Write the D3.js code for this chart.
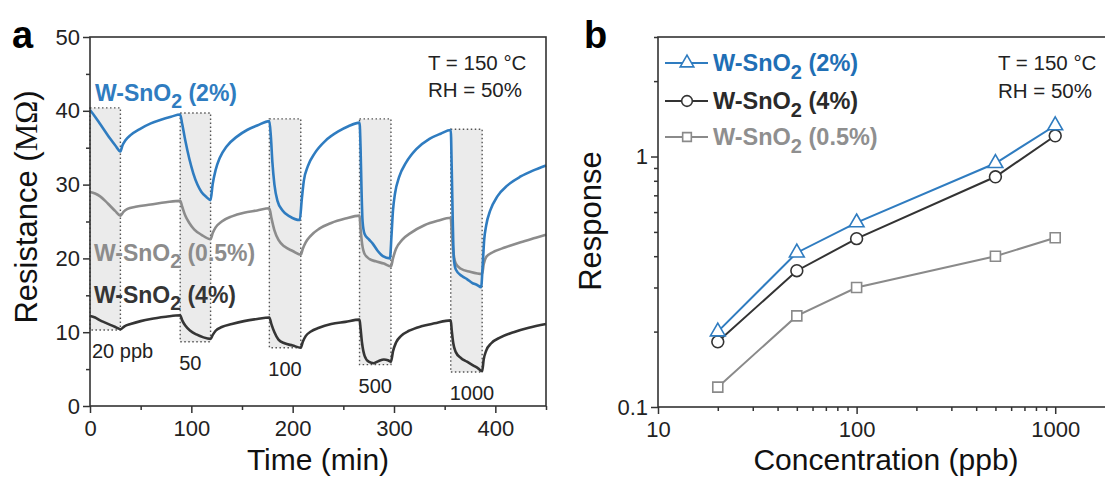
<!DOCTYPE html>
<html>
<head>
<meta charset="utf-8">
<script src="https://cdn.jsdelivr.net/npm/d3@7"></script>
<style>
  body { margin: 0; background: #fff; }
  svg text { font-family: "Liberation Sans", Arial, sans-serif; }
</style>
</head>
<body>
<div id="chart"></div>
<script>
// ---- data panel a: resistance vs time, [min, MOhm] ----
var blueSeries = [
  [0,40.1],[5,39.2],[10,38.2],[15,37.2],[20,36.2],[25,35.3],[30,34.5],
  [32,35.3],[35,36.0],[40,36.7],[50,37.6],[60,38.3],[70,38.8],[80,39.2],[89,39.5],
  [91,38.2],[94,36],[98,33.5],[102,31.5],[106,30.0],[110,29.0],[115,28.3],[119,27.9],
  [121,30],[124,32],[128,33.6],[135,35.2],[145,36.5],[155,37.4],[165,38.0],[177,38.6],
  [178.5,36.5],[180,33],[182,30],[185,27.8],[190,26.5],[197,25.7],[207,25.2],
  [209,28],[211,30.5],[215,32.5],[222,34.3],[232,35.9],[245,37.2],[255,37.9],[266,38.4],
  [267,35],[268,29],[269,25],[271,23.3],[275,22.6],[279,22.0],[284,21.0],[289,20.3],[296,20.0],
  [297.5,23],[299,26.5],[301,28.8],[305,31],[312,33],[322,34.8],[335,36.2],[346,36.9],[356,37.4],
  [357,32],[358,25],[359,20],[361,18.5],[367,17.6],[372,17.2],[377,16.7],[382,16.4],[386,16.1],
  [387.5,19],[389,22.5],[391,24.5],[395,26.5],[402,28.4],[412,29.9],[425,31.1],[437,31.9],[450,32.6]
];
var graySeries = [
  [0,29.0],[5,28.8],[10,28.4],[15,27.8],[20,27.1],[25,26.4],[30,25.8],
  [33,26.3],[37,26.7],[45,27.0],[60,27.3],[75,27.6],[89,27.8],
  [91,27],[94,25.8],[98,24.8],[103,23.9],[110,23.2],[119,22.6],
  [121,23.4],[124,24.2],[130,25.0],[140,25.7],[152,26.2],[165,26.5],[177,26.8],
  [179,25.5],[182,23.8],[186,22.5],[192,21.6],[200,21.0],[208,20.5],
  [210,21.3],[213,22.2],[218,23.1],[226,24.0],[238,24.8],[252,25.4],[266,25.8],
  [267,24],[268.5,22],[271,20.6],[276,19.9],[282,19.6],[290,19.3],[297,18.9],
  [299,20],[302,21.3],[308,22.5],[317,23.5],[330,24.5],[343,25.1],[356,25.5],
  [357,23.5],[358.5,21],[361,19.3],[366,18.6],[375,18.2],[387,17.9],
  [388.5,19.2],[391,20.2],[397,20.8],[410,21.5],[425,22.2],[440,22.8],[450,23.2]
];
var blackSeries = [
  [0,12.2],[5,12.0],[10,11.6],[15,11.3],[20,11.0],[25,10.7],[30,10.4],
  [34,10.8],[40,11.1],[50,11.5],[60,11.8],[75,12.1],[89,12.3],
  [91,11.6],[94,10.9],[99,10.2],[105,9.7],[112,9.3],[119,9.1],
  [121,9.6],[124,10.2],[130,10.7],[140,11.1],[152,11.5],[165,11.8],[177,12.0],
  [179,11.1],[182,10.0],[186,9.0],[192,8.5],[200,8.2],[208,7.9],
  [210,8.7],[213,9.5],[218,10.1],[226,10.6],[238,11.1],[252,11.4],[266,11.7],
  [267,10.5],[268.5,8.5],[271,6.8],[275,6.0],[280,5.8],[285,6.1],[290,6.3],[294,6.2],[297,6.0],
  [299,7.4],[302,8.6],[307,9.5],[315,10.2],[327,10.8],[340,11.2],[356,11.6],
  [357,10.2],[358.5,8.5],[361,7.3],[366,6.5],[372,6.0],[378,5.5],[383,5.1],[387,4.7],
  [388.5,6.3],[391,7.5],[396,8.5],[405,9.3],[418,10.0],[433,10.6],[450,11.1]
];

// gas exposure windows
var pulseStart = [0, 89, 177, 266, 356];
var pulseEnd = [30, 119, 208, 297, 387];
var pulseTop = [40.4, 39.7, 38.9, 38.9, 37.5];
var pulseBottom = [10.3, 8.7, 7.9, 5.6, 4.6];
var pulseLabels = ["20 ppb", "50", "100", "500", "1000"];

var timeTicks = [0, 100, 200, 300, 400];
var resTicks = [0, 10, 20, 30, 40, 50];

// ---- data panel b: response vs concentration ----
var concentrations = [20, 50, 100, 500, 1000];
var resp2 = [0.2, 0.413, 0.545, 0.94, 1.33];
var resp4 = [0.182, 0.35, 0.47, 0.83, 1.21];
var resp05 = [0.12, 0.231, 0.30, 0.40, 0.474];
var concTicks = [10, 100, 1000];
var respTicks = [0.1, 1];

var colBlue = "#2f7cc0",
  colGray = "#8c8c8c",
  colBlack = "#353535";

var svg = d3
  .select("#chart")
  .append("svg")
  .attr("width", 1105)
  .attr("height", 478);

// helper: text with subscript "W-SnO2 (x%)"
function subLabel(g, x, y, post, color, size) {
  var t = g
    .append("text")
    .attr("x", x)
    .attr("y", y)
    .attr("fill", color)
    .attr("font-size", size)
    .attr("font-weight", "bold");
  t.append("tspan").text("W-SnO");
  t.append("tspan").text("2").attr("font-size", size * 0.85).attr("dy", size * 0.32);
  t.append("tspan").text(" " + post).attr("dy", -size * 0.32);
  return t;
}

// helper: axes with labelled majors and small minors
function drawAxis(g, axisFn, scale, major, minor, fmt, transform) {
  g.append("g")
    .attr("transform", transform)
    .call(axisFn(scale).tickValues(minor).tickSize(4).tickSizeOuter(0).tickFormat(""))
    .call(function (s) { s.select(".domain").remove(); });
  var a = g
    .append("g")
    .attr("transform", transform)
    .call(axisFn(scale).tickValues(major).tickSize(7).tickSizeOuter(0).tickPadding(axisFn == d3.axisBottom ? 7 : 3).tickFormat(fmt));
  a.select(".domain").remove();
  a.selectAll("text")
    .attr("font-size", 22)
    .attr("fill", "#222")
    .style("font-family", '"Liberation Sans", Arial, sans-serif');
  g.selectAll(".tick line").attr("stroke", "#333").attr("stroke-width", 1.5);
}

// ================= PANEL A =================
var ga = svg.append("g");
var xA = d3.scaleLinear().domain([0, 450]).range([90, 546]);
var yA = d3.scaleLinear().domain([0, 50]).range([406, 37]);

// shaded exposure boxes
pulseStart.forEach(function (s, i) {
  ga.append("rect")
    .attr("x", xA(s))
    .attr("y", yA(pulseTop[i]))
    .attr("width", xA(pulseEnd[i]) - xA(s))
    .attr("height", yA(pulseBottom[i]) - yA(pulseTop[i]))
    .attr("fill", "#ebebeb")
    .attr("stroke", "#555")
    .attr("stroke-width", 1.4)
    .attr("stroke-dasharray", "1.5,2.5");
});

var lineA = d3
  .line()
  .x(function (d) { return xA(d[0]); })
  .y(function (d) { return yA(d[1]); })
  .curve(d3.curveMonotoneX);

[[graySeries, colGray], [blackSeries, colBlack], [blueSeries, colBlue]].forEach(function (s) {
  ga.append("path")
    .datum(s[0])
    .attr("fill", "none")
    .attr("stroke", s[1])
    .attr("stroke-width", 2.6)
    .attr("stroke-linejoin", "round")
    .attr("d", lineA);
});

// concentration labels under boxes
pulseLabels.forEach(function (l, i) {
  ga.append("text")
    .attr("x", xA(pulseStart[i]) + (i == 0 ? 2 : -1))
    .attr("y", yA(pulseBottom[i]) + 28)
    .attr("font-size", 20)
    .attr("fill", "#222")
    .text(l);
});

drawAxis(ga, d3.axisBottom, xA, timeTicks, [50, 150, 250, 350, 450], d3.format("d"), "translate(0,406)");
drawAxis(ga, d3.axisLeft, yA, resTicks, [5, 15, 25, 35, 45], d3.format("d"), "translate(90,0)");

ga.append("rect")
  .attr("x", 90).attr("y", 37)
  .attr("width", 456).attr("height", 369)
  .attr("fill", "none")
  .attr("stroke", "#333")
  .attr("stroke-width", 1.6);

subLabel(ga, 95, 101, "(2%)", colBlue, 23);
subLabel(ga, 94, 261, "(0.5%)", colGray, 23);
subLabel(ga, 94, 303, "(4%)", colBlack, 23);

ga.append("text").attr("x", 428).attr("y", 70).attr("font-size", 20.5).attr("fill", "#222").text("T = 150 °C");
ga.append("text").attr("x", 428).attr("y", 97).attr("font-size", 20.5).attr("fill", "#222").text("RH = 50%");

ga.append("text")
  .attr("x", 318).attr("y", 470)
  .attr("text-anchor", "middle")
  .attr("font-size", 30)
  .attr("fill", "#111")
  .text("Time (min)");

var yt = ga
  .append("text")
  .attr("transform", "translate(37,207) rotate(-90)")
  .attr("text-anchor", "middle")
  .attr("font-size", 31)
  .attr("fill", "#111");
yt.append("tspan").text("Resistance (");
yt.append("tspan").text("MΩ").style("font-family", '"Liberation Serif", "Times New Roman", serif');
yt.append("tspan").text(")");

svg.append("text").attr("x", 12).attr("y", 48).attr("font-size", 38).attr("font-weight", "bold").text("a");

// ================= PANEL B =================
var gb = svg.append("g");
var xB = d3.scaleLog().domain([10, 2000]).range([658, 1115]);
var yB = d3.scaleLog().domain([0.1, 3]).range([407, 37]);

var concMinor = [20, 30, 40, 50, 60, 70, 80, 90, 200, 300, 400, 500, 600, 700, 800, 900];
var respMinor = [0.2, 0.3, 0.4, 0.5, 0.6, 0.7, 0.8, 0.9, 2, 3];
drawAxis(gb, d3.axisBottom, xB, concTicks, concMinor, function (d) { return String(d); }, "translate(0,407)");
drawAxis(gb, d3.axisLeft, yB, respTicks, respMinor, function (d) { return String(d); }, "translate(658,0)");

gb.append("rect")
  .attr("x", 658).attr("y", 37)
  .attr("width", 460).attr("height", 370)
  .attr("fill", "none")
  .attr("stroke", "#333")
  .attr("stroke-width", 1.6);

var seriesB = [
  { vals: resp05, color: "#8a8a8a", shape: d3.symbolSquare, size: 100 },
  { vals: resp4, color: "#333", shape: d3.symbolCircle, size: 110 },
  { vals: resp2, color: colBlue, shape: d3.symbolTriangle, size: 95 }
];

var lineB = d3
  .line()
  .x(function (d, i) { return xB(concentrations[i]); })
  .y(function (d) { return yB(d); });

seriesB.forEach(function (s) {
  gb.append("path")
    .datum(s.vals)
    .attr("fill", "none")
    .attr("stroke", s.color)
    .attr("stroke-width", 2)
    .attr("d", lineB);
  gb.selectAll(null)
    .data(s.vals)
    .enter()
    .append("path")
    .attr("transform", function (d, i) {
      return "translate(" + xB(concentrations[i]) + "," + yB(d) + ")";
    })
    .attr("d", d3.symbol().type(s.shape).size(s.size))
    .attr("fill", "#fff")
    .attr("stroke", s.color)
    .attr("stroke-width", 1.6);
});

// legend
var legendItems = [
  { label: "(2%)", color: colBlue, text: "#1f6fb5", shape: d3.symbolTriangle, size: 80, y: 63 },
  { label: "(4%)", color: "#333", text: "#2a2a2a", shape: d3.symbolCircle, size: 90, y: 101 },
  { label: "(0.5%)", color: "#8a8a8a", text: "#8f8f8f", shape: d3.symbolSquare, size: 75, y: 137 }
];
legendItems.forEach(function (l) {
  gb.append("line")
    .attr("x1", 665).attr("x2", 708)
    .attr("y1", l.y).attr("y2", l.y)
    .attr("stroke", l.color)
    .attr("stroke-width", 2);
  gb.append("path")
    .attr("transform", "translate(687," + l.y + ")")
    .attr("d", d3.symbol().type(l.shape).size(l.size))
    .attr("fill", "#fff")
    .attr("stroke", l.color)
    .attr("stroke-width", 1.6);
  subLabel(gb, 713, l.y + 8, l.label, l.text, 23.5);
});

gb.append("text").attr("x", 998).attr("y", 70).attr("font-size", 20.5).attr("fill", "#222").text("T = 150 °C");
gb.append("text").attr("x", 998).attr("y", 98).attr("font-size", 20.5).attr("fill", "#222").text("RH = 50%");

gb.append("text")
  .attr("x", 886).attr("y", 470)
  .attr("text-anchor", "middle")
  .attr("font-size", 30)
  .attr("fill", "#111")
  .text("Concentration (ppb)");

gb.append("text")
  .attr("transform", "translate(601,221) rotate(-90)")
  .attr("text-anchor", "middle")
  .attr("font-size", 31)
  .attr("fill", "#111")
  .text("Response");

svg.append("text").attr("x", 584).attr("y", 48).attr("font-size", 38).attr("font-weight", "bold").text("b");
</script>
</body>
</html>
